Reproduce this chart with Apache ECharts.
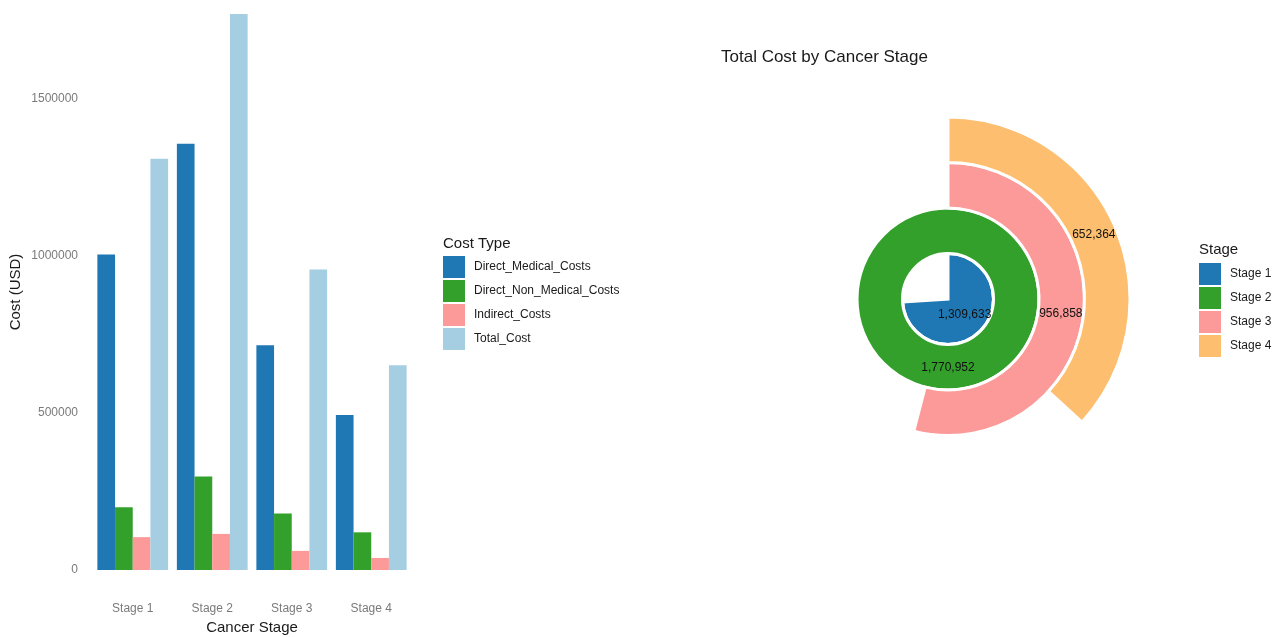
<!DOCTYPE html>
<html>
<head>
<meta charset="utf-8">
<script src="https://cdn.jsdelivr.net/npm/echarts@6/dist/echarts.min.js"></script>
<style>
  html, body { margin: 0; padding: 0; background: #fff; overflow: hidden; }
  #chart { width: 1278px; height: 637px; }
</style>
</head>
<body>
<div id="chart"></div>
<script>
// Cancer cost breakdown by stage
const stages = ['Stage 1', 'Stage 2', 'Stage 3', 'Stage 4'];
const directMedical = [1005000, 1358000, 716000, 494000];
const directNonMedical = [200000, 298000, 180000, 120000];
const indirectCosts = [104633, 114952, 60858, 38364];
const totalCost = [1309633, 1770952, 956858, 652364];
const yTicks = [0, 500000, 1000000, 1500000];

const costColors = ['#1F78B4', '#33A02C', '#FB9A99', '#A6CEE3'];
const stageColors = ['#1F78B4', '#33A02C', '#FB9A99', '#FDBF6F'];
const costNames = ['Direct_Medical_Costs', 'Direct_Non_Medical_Costs', 'Indirect_Costs', 'Total_Cost'];
const costSeries = [directMedical, directNonMedical, indirectCosts, totalCost];

const fontFam = 'Liberation Sans, Arial, sans-serif';
const maxTotal = Math.max(...totalCost);

const barSeries = costSeries.map((vals, i) => ({
  name: costNames[i],
  type: 'bar',
  xAxisIndex: 0,
  yAxisIndex: 0,
  data: vals,
  barGap: '0%',
  barCategoryGap: '11%',
  itemStyle: { color: costColors[i] },
  legendHoverLink: false
}));

// one stacked polar bar per stage, each occupying its own ring
const polarSeries = stages.map((s, i) => ({
  name: s,
  type: 'bar',
  coordinateSystem: 'polar',
  stack: 'ring',
  barWidth: '100%',
  data: stages.map((_, j) => (j === i ? totalCost[i] : '-')),
  itemStyle: { color: stageColors[i], borderColor: '#fff', borderWidth: 3 },
  label: {
    show: true,
    position: 'middle',
    rotate: 0,
    color: '#111',
    fontSize: 12,
    fontFamily: fontFam,
    formatter: p => Number(p.value).toLocaleString('en-US')
  }
}));

const legendBase = {
  orient: 'vertical',
  itemWidth: 22, itemHeight: 22, itemGap: 2,
  icon: 'rect',
  selectedMode: false,
  itemStyle: { borderWidth: 0 },
  textStyle: { fontSize: 12, color: '#1a1a1a', fontFamily: fontFam, padding: [0, 0, 0, 4] }
};

const option = {
  animation: false,
  backgroundColor: '#fff',
  title: [
    {
      text: 'Total Cost by Cancer Stage',
      left: 716, top: 44,
      textStyle: { fontSize: 17, fontWeight: 'normal', color: '#1a1a1a', fontFamily: fontFam }
    },
    {
      text: 'Cost Type',
      left: 438, top: 231,
      textStyle: { fontSize: 15, fontWeight: 'normal', color: '#1a1a1a', fontFamily: fontFam }
    },
    {
      text: 'Stage',
      left: 1194, top: 237,
      textStyle: { fontSize: 15, fontWeight: 'normal', color: '#1a1a1a', fontFamily: fontFam }
    }
  ],
  legend: [
    Object.assign({}, legendBase, { data: costNames, left: 438, top: 251 }),
    Object.assign({}, legendBase, { data: stages, left: 1194, top: 258 })
  ],
  grid: { left: 93, top: 14, right: 867, bottom: 67, containLabel: false, outerBoundsMode: 'none' },
  xAxis: {
    type: 'category',
    data: stages,
    name: 'Cancer Stage',
    nameLocation: 'middle',
    nameGap: 49,
    nameTextStyle: { fontSize: 15, color: '#1a1a1a', fontFamily: fontFam },
    axisLine: { show: false },
    axisTick: { show: false },
    axisLabel: { margin: 33, fontSize: 12, color: '#7a7a7a', fontFamily: fontFam }
  },
  yAxis: {
    type: 'value',
    min: 0,
    max: maxTotal,
    interval: 500000,
    name: 'Cost (USD)',
    nameLocation: 'middle',
    nameGap: 70,
    nameTextStyle: { fontSize: 15, color: '#1a1a1a', fontFamily: fontFam },
    splitLine: { show: false },
    axisLine: { show: false },
    axisTick: { show: false },
    axisLabel: {
      showMaxLabel: false,
      margin: 15,
      fontSize: 12,
      color: '#7a7a7a',
      fontFamily: fontFam,
      formatter: v => (yTicks.includes(v) ? String(v) : '')
    }
  },
  polar: { center: [948, 299], radius: [0, 182] },
  angleAxis: {
    type: 'value',
    min: 0,
    max: maxTotal,
    startAngle: 90,
    clockwise: true,
    show: false
  },
  radiusAxis: {
    type: 'category',
    data: stages,
    show: false
  },
  series: [...barSeries, ...polarSeries]
};

const chart = echarts.init(document.getElementById('chart'), null, { renderer: 'canvas' });
chart.setOption(option);
</script>
</body>
</html>
